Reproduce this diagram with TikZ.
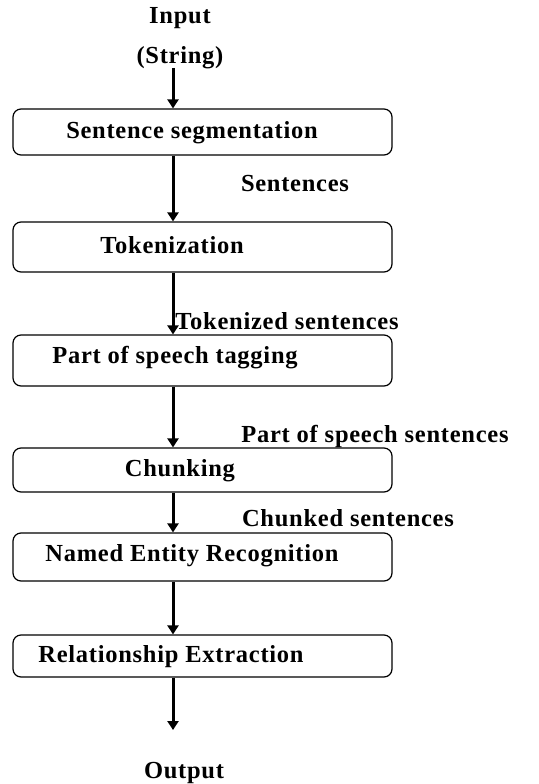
\documentclass[tikz,border=0pt]{standalone}
\usepackage{fontspec}
\setmainfont{Liberation Serif}[LetterSpace=3]
\usetikzlibrary{arrows.meta}
\begin{document}
\begin{tikzpicture}[x=1pt,y=-1pt,
  box/.style={draw,line width=1.2pt,rounded corners=8pt,minimum width=379pt,inner sep=0pt},
  txt/.style={font=\fontsize{24.5}{28}\selectfont\bfseries,inner sep=0pt,anchor=center},
  arr/.style={line width=3pt,-{Triangle[width=11pt,length=9pt]}}]
\useasboundingbox (0,0) rectangle (538,784);
% boxes
\node[box,minimum height=46pt] (b1) at (202.5,132) {};
\node[box,minimum height=50pt] (b2) at (202.5,247) {};
\node[box,minimum height=51pt] (b3) at (202.5,360.5) {};
\node[box,minimum height=44pt] (b4) at (202.5,470) {};
\node[box,minimum height=48pt] (b5) at (202.5,557) {};
\node[box,minimum height=42pt] (b6) at (202.5,656) {};
% box texts
\node[txt] (t1) at (192,133) {Sentence segmentation};
\node[txt] (t2) at (172,245) {Tokenization};
\node[txt] (t3) at (175,358) {Part of speech tagging};
\node[txt] (t4) at (180,471) {Chunking};
\node[txt] (t5) at (192,556) {Named Entity Recognition};
\node[txt] (t6) at (171,657) {Relationship Extraction};
% labels
\node[txt] (in) at (180,18) {Input};
\node[txt] (str) at (180,58) {(String)};
\node[txt] (l1) at (295,184) {Sentences};
\node[txt] (l2) at (287,321) {Tokenized sentences};
\node[txt] (l3) at (375,436) {Part of speech sentences};
\node[txt] (l4) at (348,518) {Chunked sentences};
\node[txt] (out) at (184,773) {Output};
% connectors
\coordinate (ax) at (173,0);
\coordinate (s0) at (173,68);
\coordinate (e7) at (173,730);
\draw[arr] (s0) -- (b1.north -| ax);
\draw[arr] (b1.south -| ax) -- (b2.north -| ax);
\draw[arr] (b2.south -| ax) -- (b3.north -| ax);
\draw[arr] (b3.south -| ax) -- (b4.north -| ax);
\draw[arr] (b4.south -| ax) -- (b5.north -| ax);
\draw[arr] (b5.south -| ax) -- (b6.north -| ax);
\draw[arr] (b6.south -| ax) -- (e7);
\end{tikzpicture}
\end{document}
